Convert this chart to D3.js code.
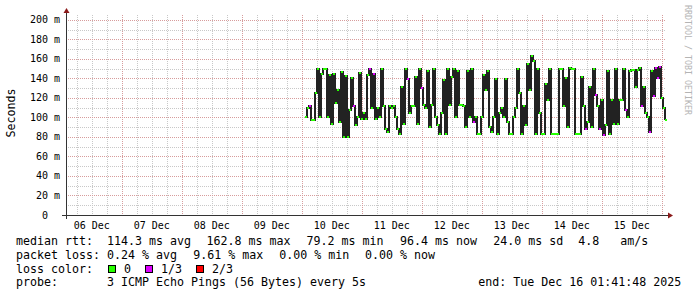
<!DOCTYPE html>
<html>
<head>
<meta charset="utf-8">
<script src="https://cdn.jsdelivr.net/npm/d3@7"></script>
<style>
  body { margin: 0; background: #fff; }
  text { font-family: "DejaVu Sans Mono", monospace; white-space: pre; fill: #000; }
</style>
</head>
<body>
<svg id="chart" width="697" height="297"></svg>
<script>
  // graph window (rrd end time, 10 days back)
  const endTime = new Date(Date.UTC(2025, 11, 16, 1, 41, 48))
  const startTime = new Date(endTime - 10 * 864e5)

  // median rtt samples (ms), one per rrd step, first one at Dec 10 01:17
  const firstSample = new Date(Date.UTC(2025, 11, 10, 1, 17))
  const stepMinutes = 48
  const medianMs = [
    100, 110, 112, 97, 97, 125, 150, 100, 145, 150, 150, 100, 143, 93, 145, 115, 128, 95, 147, 80,
    142, 80, 108, 140, 112, 92, 100, 146, 98, 105, 98, 143, 150, 110, 145, 98, 110, 100, 150, 112,
    88, 85, 112, 110, 112,
    100, 88, 83, 131, 93, 150, 139, 105, 112, 112, 141, 93, 150, 130, 113, 110, 148, 90, 113, 150,
    100, 92, 83, 105, 138, 83, 150, 113, 141, 150, 100, 148, 113, 113, 112, 90, 148, 100, 150, 95,
    100, 83, 83, 100, 143,
    128, 148, 90, 85, 100, 139, 83, 105, 110, 100, 139, 95, 83, 83, 100, 110, 150, 125, 83, 112,
    92, 155, 128, 163, 158, 83, 150, 105, 83, 83, 134, 118, 150, 83, 83, 83, 83, 150, 150, 112,
    140, 90, 151, 150, 150,
    83, 83, 83, 141, 112, 88, 95, 131, 90, 150, 123, 112, 88, 118, 82, 92, 148, 83, 118, 93,
    150, 93, 118, 118, 150, 108, 100, 148, 149, 149, 131, 149, 151, 112, 131, 105, 100, 85, 148, 122,
    151, 140, 152, 120, 110, 97
  ]
  // samples that lost 1 of 3 pings
  const lossOneThird = [2, 24, 32, 34, 51, 58, 84, 140, 145, 147, 149, 160, 168, 172, 174, 175, 176, 177]

  const yTicks = [0, 20, 40, 60, 80, 100, 120, 140, 160, 180, 200]

  const medianStats = [['114.3', 'avg'], ['162.8', 'max'], ['79.2', 'min'], ['96.4', 'now'], ['24.0', 'sd']]
  const amps = '4.8'
  const lossStats = [['0.24', 'avg'], ['9.61', 'max'], ['0.00', 'min'], ['0.00', 'now']]
  const lossLegend = [['0', '#26ff00'], ['1/3', '#dd00ff'], ['2/3', '#ff0000']]
  const probeText = '3 ICMP Echo Pings (56 Bytes) every 5s'
  const endText = 'end: Tue Dec 16 01:41:48 2025'

  const lossColor = { 0: '#26ff00', 1: '#dd00ff' }

  const series = medianMs.map((v, i) => ({
    t: d3.utcMinute.offset(firstSample, i * stepMinutes),
    v,
    loss: lossOneThird.includes(i) ? 1 : 0
  }))

  const plot = { left: 66, right: 666, top: 15, bottom: 215 }
  const legendFont = '11.63px'
  const axisFont = '10px'

  const svg = d3.select('#chart')

  const x = d3.scaleUtc().domain([startTime, endTime]).range([plot.left, plot.right])
  const y = d3.scaleLinear().domain([0, 205]).range([plot.bottom, plot.top])
  const px = d => Math.round(x(d))
  const py = v => Math.round(y(v))

  // grid
  const grid = svg.append('g').attr('shape-rendering', 'crispEdges')
  const dayStart = d3.utcDay.floor(startTime)
  const minorX = d3.utcHour.every(6).range(startTime, endTime)
  const majorX = d3.utcDay.range(startTime, endTime)
  grid.selectAll('.minor-x').data(minorX).enter().append('line')
    .attr('x1', d => px(d) + 0.5).attr('x2', d => px(d) + 0.5)
    .attr('y1', plot.top).attr('y2', plot.bottom)
    .attr('stroke', '#c8c8c8').attr('stroke-dasharray', '1,1')
  grid.selectAll('.minor-y').data(d3.range(10, 201, 20)).enter().append('line')
    .attr('y1', d => py(d) + 0.5).attr('y2', d => py(d) + 0.5)
    .attr('x1', plot.left).attr('x2', plot.right)
    .attr('stroke', '#c8c8c8').attr('stroke-dasharray', '1,1')
  grid.selectAll('.major-x').data(majorX).enter().append('line')
    .attr('x1', d => px(d) + 0.5).attr('x2', d => px(d) + 0.5)
    .attr('y1', plot.top).attr('y2', plot.bottom)
    .attr('stroke', '#d79c9c').attr('stroke-dasharray', '1,1')
  grid.selectAll('.major-y').data(yTicks.slice(1)).enter().append('line')
    .attr('y1', d => py(d) + 0.5).attr('y2', d => py(d) + 0.5)
    .attr('x1', plot.left).attr('x2', plot.right)
    .attr('stroke', '#d79c9c').attr('stroke-dasharray', '1,1')

  // smoke / median jumps
  const step = d3.line()
    .x(d => px(d.t))
    .y(d => py(d.v))
    .curve(d3.curveStepAfter)
  svg.append('path')
    .attr('d', step(series))
    .attr('fill', 'none')
    .attr('stroke', '#222')
    .attr('stroke-width', 2)
    .attr('shape-rendering', 'crispEdges')

  // median, coloured by loss
  svg.append('g').attr('shape-rendering', 'crispEdges')
    .selectAll('rect').data(series).enter().append('rect')
    .attr('x', d => px(d.t))
    .attr('width', d => px(d3.utcMinute.offset(d.t, stepMinutes)) - px(d.t))
    .attr('y', d => py(d.v) - 1)
    .attr('height', 2)
    .attr('fill', d => lossColor[d.loss])

  // axes
  const axis = svg.append('g').attr('shape-rendering', 'crispEdges')
  axis.append('line')
    .attr('x1', plot.left - 4).attr('x2', plot.right + 4)
    .attr('y1', plot.bottom + 0.5).attr('y2', plot.bottom + 0.5)
    .attr('stroke', '#333')
  axis.append('line')
    .attr('x1', plot.left + 0.5).attr('x2', plot.left + 0.5)
    .attr('y1', plot.bottom + 4).attr('y2', plot.top - 3)
    .attr('stroke', '#333')
  svg.append('path')
    .attr('d', `M${plot.right + 2},${plot.bottom - 2.5}L${plot.right + 7},${plot.bottom + 0.5}L${plot.right + 2},${plot.bottom + 3.5}Z`)
    .attr('fill', '#8b1a1a')
  svg.append('path')
    .attr('d', `M${plot.left - 2.5},${plot.top - 2}L${plot.left + 0.5},${plot.top - 7}L${plot.left + 3.5},${plot.top - 2}Z`)
    .attr('fill', '#8b1a1a')

  // tick labels
  svg.append('g').selectAll('text').data(yTicks).enter().append('text')
    .attr('x', 60)
    .attr('y', d => y(d) + 3.5)
    .attr('text-anchor', 'end')
    .style('font-size', axisFont)
    .text(d => d === 0 ? '0  ' : `${d} m`)

  const fmtDay = d3.utcFormat('%d %b')
  const noons = d3.utcDay.range(dayStart, endTime).map(d => d3.utcHour.offset(d, 12))
  svg.append('g').selectAll('text')
    .data(noons.filter(d => d > startTime && d < endTime))
    .enter().append('text')
    .attr('x', d => x(d))
    .attr('y', 229)
    .attr('text-anchor', 'middle')
    .style('font-size', axisFont)
    .text(fmtDay)

  svg.append('text')
    .attr('transform', 'translate(15,113) rotate(-90)')
    .attr('text-anchor', 'middle')
    .style('font-size', legendFont)
    .text('Seconds')

  svg.append('text')
    .attr('transform', 'translate(684.5,5) rotate(90)')
    .style('font-size', '8.3px')
    .style('fill', '#b4b4b4')
    .text('RRDTOOL / TOBI OETIKER')

  // legend
  const legend = svg.append('g').style('font-size', legendFont)
  const rowY = i => 245 + i * 13.75
  const addText = (tx, row, s) => legend.append('text').attr('x', tx).attr('y', rowY(row)).text(s)

  addText(16, 0, 'median rtt:')
  const medianCols = [107, 206.5, 306.5, 400, 493.3]
  medianStats.forEach(([v, lbl], i) => addText(medianCols[i], 0, `${v} ms ${lbl}`))
  addText(578.3, 0, `${amps}   am/s`)

  addText(16, 1, 'packet loss:')
  const lossCols = [107, 193.3, 279.3, 365]
  lossStats.forEach(([v, lbl], i) => addText(lossCols[i], 1, `${v} % ${lbl}`))

  addText(16, 2, 'loss color:')
  const swatchCols = [108.5, 145.5, 196.5]
  lossLegend.forEach(([lbl, color], i) => {
    legend.append('rect')
      .attr('x', swatchCols[i]).attr('y', 265.5)
      .attr('width', 7).attr('height', 7)
      .attr('fill', color).attr('stroke', '#000')
      .attr('shape-rendering', 'crispEdges')
    addText(swatchCols[i] + 15.5, 2, lbl)
  })

  addText(16, 3, 'probe:')
  addText(107, 3, probeText)
  addText(478.3, 3, endText)
</script>
</body>
</html>
